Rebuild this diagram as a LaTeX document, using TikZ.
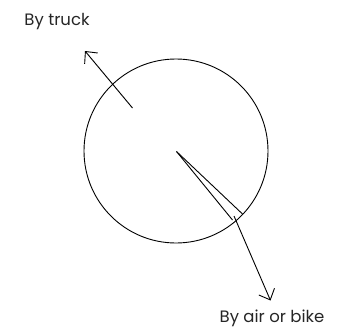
\documentclass[tikz,border=0pt]{standalone}
\usepackage{fontspec}
\setmainfont{Poppins}
\usetikzlibrary{arrows.meta,positioning}

\begin{document}
\begin{tikzpicture}[
    x=1pt, y=-1pt,
    label/.style={font=\fontsize{16.5}{18}\selectfont, inner sep=0pt, text=black!85},
    ring/.style={draw, circle, line width=0.9pt, minimum size=184pt, inner sep=0pt},
    line/.style={line width=0.9pt},
    arrow/.style={line width=0.9pt, -{Straight Barb[length=9pt, width=17pt]}}
]
    \useasboundingbox (0,0) rectangle (348,332);
    \node[ring] (disc) at (176,151) {};
    \node[label] (truck) at (57,22) {By truck};
    \node[label] (bike) at (272,318) {By air or bike};
    \coordinate (centre) at (176.5,151.5);
    \coordinate (truckstart) at (132.5,108);
    \coordinate (truckend) at (85,51);
    \coordinate (edgeleft) at (232.5,220);
    \coordinate (edgeright) at (242.5,214);
    \coordinate (bikestart) at (234,216);
    \coordinate (bikeend) at (270.5,300.5);
    \draw[arrow] (truckstart) -- (truckend);
    \draw[line] (centre) -- (edgeleft);
    \draw[line] (centre) -- (edgeright);
    \draw[arrow] (bikestart) -- (bikeend);
\end{tikzpicture}
\end{document}
